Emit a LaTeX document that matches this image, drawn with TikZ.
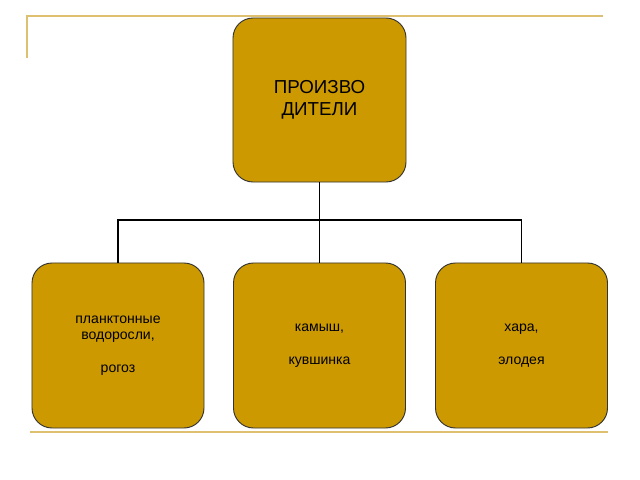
\documentclass[tikz,border=0pt]{standalone}
\usepackage{fontspec}
\setmainfont{Liberation Sans}
\begin{document}
\begin{tikzpicture}[x=0.03cm,y=-0.03cm,
  box/.style={draw=black!80,line width=0.8pt,fill=gold,rounded corners=0.6cm,inner sep=0pt,align=center},
  deco/.style={draw=decog,line width=1.2pt},
  con/.style={draw=black,line width=1.2pt}]
\definecolor{gold}{HTML}{CC9900}
\definecolor{decog}{HTML}{DDC070}
\useasboundingbox (0,0) rectangle (640,480);
\fill[white] (0,0) rectangle (640,480);
\draw[deco] (27,58) -- (27,16) -- (603,16);
\draw[deco] (30,432) -- (608,432);
\node[box,minimum width=5.19cm,minimum height=4.92cm,font=\fontsize{16}{19}\selectfont] (top) at (319.5,100) {ПРОИЗВО\\ДИТЕЛИ};
\node[box,minimum width=5.16cm,minimum height=4.95cm,font=\fontsize{12}{14}\selectfont] (b1) at (118,345.5) {планктонные\\водоросли,\\[14pt]рогоз};
\node[box,minimum width=5.16cm,minimum height=4.95cm,font=\fontsize{12}{14}\selectfont] (b2) at (319.5,345.5) {камыш,\\[14pt]кувшинка};
\node[box,minimum width=5.16cm,minimum height=4.95cm,font=\fontsize{12}{14}\selectfont] (b3) at (521.5,345.5) {хара,\\[14pt]элодея};
\coordinate (j) at (319.5,220);
\draw[con] (top.south) -- (j);
\draw[con] (b1.north) |- (j);
\draw[con] (b3.north) |- (j);
\draw[con] (j) -- (b2.north);
\end{tikzpicture}
\end{document}
